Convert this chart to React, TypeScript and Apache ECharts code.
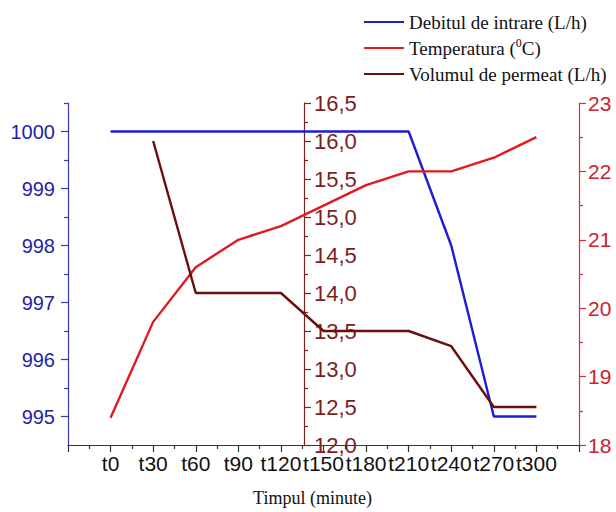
import React, { useEffect, useRef } from "react";
import * as echarts from "echarts";

// Sampling times and measured series
const categories = ["t0", "t30", "t60", "t90", "t120", "t150", "t180", "t210", "t240", "t270", "t300"];
const debitIntrare = [1000, 1000, 1000, 1000, 1000, 1000, 1000, 1000, 998.0, 995.0, 995.0];
const temperatura = [18.4, 19.8, 20.6, 21.0, 21.2, 21.5, 21.8, 22.0, 22.0, 22.2, 22.5];
const volumPermeat = [null, 16.0, 14.0, 14.0, 14.0, 13.5, 13.5, 13.5, 13.3, 12.5, 12.5];

// Tick marks for the flow axis
const debitMajorTicks = [995, 996, 997, 998, 999, 1000];
const debitMinorTicks = [995.5, 996.5, 997.5, 998.5, 999.5, 1000.5];

const seriesNames = ["Debitul de intrare (L/h)", "Temperatura (0C)", "Volumul de permeat (L/h)"];

const BLUE = "#1c1cd4";
const RED = "#e01a1e";
const MAROON = "#6c0e0e";
const AXIS_BLUE = "#3a3ab4";
const AXIS_MAROON = "#7a2222";
const AXIS_RED = "#d0303a";
const SANS = "'Liberation Sans', Arial, sans-serif";
const SERIF = "'Liberation Serif', 'Times New Roman', serif";

const toPoints = (vals: (number | null)[]) =>
  vals.map((v, i) => [i + 1, v]).filter((p) => p[1] !== null);

export default function App() {
  const ref = useRef<HTMLDivElement>(null);

  useEffect(() => {
    if (!ref.current) return;
    const chart = echarts.init(ref.current, null, { renderer: "svg" });

    chart.setOption({
      animation: false,
      backgroundColor: "#ffffff",
      grid: { left: 68, right: 37, top: 103, bottom: 65 },
      legend: {
        orient: "vertical",
        left: 359,
        top: 6,
        icon: "rect",
        itemWidth: 40,
        itemHeight: 2,
        itemGap: 4,
        data: seriesNames,
        textStyle: {
          fontFamily: SERIF,
          fontSize: 19,
          color: "#111",
          lineHeight: 22,
          rich: {
            t: { fontFamily: SERIF, fontSize: 19, color: "#111", lineHeight: 22 },
            sup: { fontFamily: SERIF, fontSize: 12, color: "#111", lineHeight: 22, verticalAlign: "top", padding: [0, 0, 8, 0] },
          },
        },
        formatter: (name: string) =>
          name === "Temperatura (0C)" ? "{t|Temperatura (}{sup|0}{t|C)}" : name,
      },
      xAxis: {
        type: "value",
        min: 0,
        max: 12,
        interval: 1,
        name: "Timpul (minute)",
        nameLocation: "middle",
        nameGap: 44,
        nameTextStyle: { fontFamily: SERIF, fontSize: 18, color: "#111", padding: [0, 22, 0, 0] },
        axisLine: { lineStyle: { color: "#333", width: 1.2 } },
        axisTick: { length: 7, lineStyle: { color: "#333", width: 1.2 } },
        minorTick: { show: true, splitNumber: 2, length: 4, lineStyle: { color: "#333", width: 1.2 } },
        axisLabel: {
          margin: 8,
          fontFamily: SANS,
          fontSize: 21,
          color: "#111",
          formatter: (v: number) => categories[v - 1] ?? "",
        },
        splitLine: { show: false },
      },
      yAxis: [
        {
          type: "value",
          position: "left",
          min: 994.5,
          max: 1000.5,
          interval: 0.5,
          axisLine: { show: true, lineStyle: { color: AXIS_BLUE, width: 1.2 } },
          axisTick: { show: true, customValues: debitMajorTicks, length: 7, lineStyle: { color: AXIS_BLUE, width: 1.2 } },
          axisLabel: {
            customValues: debitMajorTicks,
            margin: 13,
            fontFamily: SANS,
            fontSize: 20,
            color: "#2424a6",
            formatter: (v: number) => (Number.isInteger(v) ? String(v) : ""),
          },
          splitLine: { show: false },
        },
        {
          type: "value",
          position: "right",
          offset: -275,
          min: 12,
          max: 16.5,
          interval: 0.5,
          axisLine: { show: true, lineStyle: { color: AXIS_MAROON, width: 1.2 } },
          axisTick: { show: true, length: 7, lineStyle: { color: AXIS_MAROON, width: 1.2 } },
          minorTick: { show: true, splitNumber: 2, length: 4, lineStyle: { color: AXIS_MAROON, width: 1.2 } },
          axisLabel: {
            margin: 10,
            fontFamily: SANS,
            fontSize: 22,
            color: "#7a1e1e",
            formatter: (v: number) => v.toFixed(1).replace(".", ","),
          },
          splitLine: { show: false },
        },
        {
          type: "value",
          position: "right",
          min: 18,
          max: 23,
          interval: 1,
          axisLine: { show: true, lineStyle: { color: AXIS_RED, width: 1.2 } },
          axisTick: { show: true, length: 7, lineStyle: { color: AXIS_RED, width: 1.2 } },
          minorTick: { show: true, splitNumber: 2, length: 4, lineStyle: { color: AXIS_RED, width: 1.2 } },
          axisLabel: { margin: 9, fontFamily: SANS, fontSize: 21, color: "#cc2229" },
          splitLine: { show: false },
        },
        {
          // minor ticks of the flow axis
          type: "value",
          position: "left",
          min: 994.5,
          max: 1000.5,
          interval: 0.5,
          axisLine: { show: false },
          axisTick: { show: true, customValues: debitMinorTicks, length: 4, lineStyle: { color: AXIS_BLUE, width: 1.2 } },
          axisLabel: { show: false },
          splitLine: { show: false },
        },
      ],
      series: [
        {
          name: seriesNames[0],
          type: "line",
          yAxisIndex: 0,
          data: toPoints(debitIntrare),
          symbol: "none",
          lineStyle: { color: BLUE, width: 2.4 },
          itemStyle: { color: BLUE },
        },
        {
          name: seriesNames[1],
          type: "line",
          yAxisIndex: 2,
          data: toPoints(temperatura),
          symbol: "none",
          lineStyle: { color: RED, width: 2.4 },
          itemStyle: { color: RED },
        },
        {
          name: seriesNames[2],
          type: "line",
          yAxisIndex: 1,
          data: toPoints(volumPermeat),
          symbol: "none",
          lineStyle: { color: MAROON, width: 2.4 },
          itemStyle: { color: MAROON },
        },
      ],
    });

    return () => chart.dispose();
  }, []);

  return (
    <div
      ref={ref}
      style={{ position: "fixed", left: 0, top: 0, width: 616, height: 512, background: "#fff" }}
    />
  );
}
